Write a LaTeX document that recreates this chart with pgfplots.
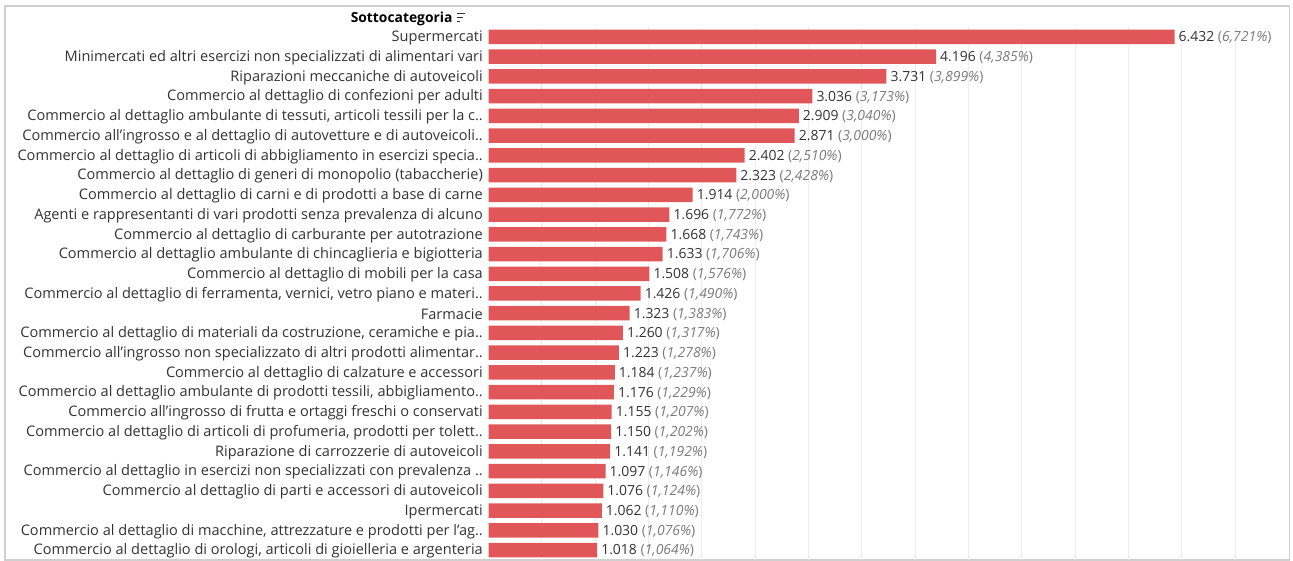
\documentclass[border=0pt]{standalone}
\usepackage{pgfplots}
\pgfplotsset{compat=1.18}
\usepackage{pgfplotstable}
\usepackage{fontspec}
\setmainfont{Open Sans}
\definecolor{barred}{HTML}{E15759}
\definecolor{txt}{HTML}{333333}
\definecolor{pctc}{HTML}{7A7A7A}
\definecolor{gridc}{HTML}{EDEDED}
\definecolor{framec}{HTML}{CFCFCF}
\protected\def\pc#1{\ {\color{pctc}(\textit{#1\%})}}

\pgfplotstableread{
idx val lab
1 6432 {6.432\pc{6,721}}
2 4196 {4.196\pc{4,385}}
3 3731 {3.731\pc{3,899}}
4 3036 {3.036\pc{3,173}}
5 2909 {2.909\pc{3,040}}
6 2871 {2.871\pc{3,000}}
7 2402 {2.402\pc{2,510}}
8 2323 {2.323\pc{2,428}}
9 1914 {1.914\pc{2,000}}
10 1696 {1.696\pc{1,772}}
11 1668 {1.668\pc{1,743}}
12 1633 {1.633\pc{1,706}}
13 1508 {1.508\pc{1,576}}
14 1426 {1.426\pc{1,490}}
15 1323 {1.323\pc{1,383}}
16 1260 {1.260\pc{1,317}}
17 1223 {1.223\pc{1,278}}
18 1184 {1.184\pc{1,237}}
19 1176 {1.176\pc{1,229}}
20 1155 {1.155\pc{1,207}}
21 1150 {1.150\pc{1,202}}
22 1141 {1.141\pc{1,192}}
23 1097 {1.097\pc{1,146}}
24 1076 {1.076\pc{1,124}}
25 1062 {1.062\pc{1,110}}
26 1030 {1.030\pc{1,076}}
27 1018 {1.018\pc{1,064}}
}\datatable

\begin{document}
\begin{tikzpicture}[x=1bp,y=1bp]
\useasboundingbox (0,0) rectangle (1293,561);
\draw[framec, line width=1.3bp] (5,1) rectangle (1289.5,555);
\begin{axis}[
  at={(488.5bp,1.1bp)}, anchor=south west,
  scale only axis, width=801bp, height=532.8bp,
  xbar, bar width=14.5bp,
  xmin=0, xmax=7510, ymin=0.5, ymax=27.5, y dir=reverse,
  xtick={500,1000,...,7000}, xticklabels={},
  xmajorgrids, grid style={gridc, line width=1bp},
  ytick={1,...,27},
  yticklabels={
    Supermercati,
    Minimercati ed altri esercizi non specializzati di alimentari vari,
    Riparazioni meccaniche di autoveicoli,
    Commercio al dettaglio di confezioni per adulti,
    {Commercio al dettaglio ambulante di tessuti, articoli tessili per la c..},
    Commercio all’ingrosso e al dettaglio di autovetture e di autoveicoli..,
    Commercio al dettaglio di articoli di abbigliamento in esercizi specia..,
    Commercio al dettaglio di generi di monopolio (tabaccherie),
    Commercio al dettaglio di carni e di prodotti a base di carne,
    Agenti e rappresentanti di vari prodotti senza prevalenza di alcuno,
    Commercio al dettaglio di carburante per autotrazione,
    Commercio al dettaglio ambulante di chincaglieria e bigiotteria,
    Commercio al dettaglio di mobili per la casa,
    {Commercio al dettaglio di ferramenta, vernici, vetro piano e materi..},
    Farmacie,
    {Commercio al dettaglio di materiali da costruzione, ceramiche e pia..},
    Commercio all’ingrosso non specializzato di altri prodotti alimentar..,
    Commercio al dettaglio di calzature e accessori,
    {Commercio al dettaglio ambulante di prodotti tessili, abbigliamento..},
    Commercio all’ingrosso di frutta e ortaggi freschi o conservati,
    {Commercio al dettaglio di articoli di profumeria, prodotti per tolett..},
    Riparazione di carrozzerie di autoveicoli,
    Commercio al dettaglio in esercizi non specializzati con prevalenza ..,
    Commercio al dettaglio di parti e accessori di autoveicoli,
    Ipermercati,
    {Commercio al dettaglio di macchine, attrezzature e prodotti per l’ag..},
    {Commercio al dettaglio di orologi, articoli di gioielleria e argenteria}
  },
  major tick length=0pt,
  axis line style={draw=none},
  yticklabel style={font=\fontsize{14.6}{16}\selectfont, text=txt, anchor=east, inner sep=0pt, xshift=-5.5bp, yshift=-1bp},
  point meta=explicit symbolic,
  nodes near coords={\pgfplotspointmeta},
  nodes near coords style={anchor=west, inner sep=0pt, xshift=4bp, yshift=-1bp, font=\fontsize{14}{16}\selectfont, text=txt},
]
\addplot[draw=none, fill=barred] table[x=val, y=idx, meta=lab] {\datatable};
\end{axis}
\node[anchor=east, inner sep=0pt, text=black, font=\bfseries\fontsize{13.9}{15}\selectfont] at (452.7,542.5) {Sottocategoria};
\draw[txt, line width=1.3bp] (456.7,547.5) -- (465,547.5) (456.7,543.6) -- (462.8,543.6) (456.7,539.7) -- (460.3,539.7);
\end{tikzpicture}
\end{document}
